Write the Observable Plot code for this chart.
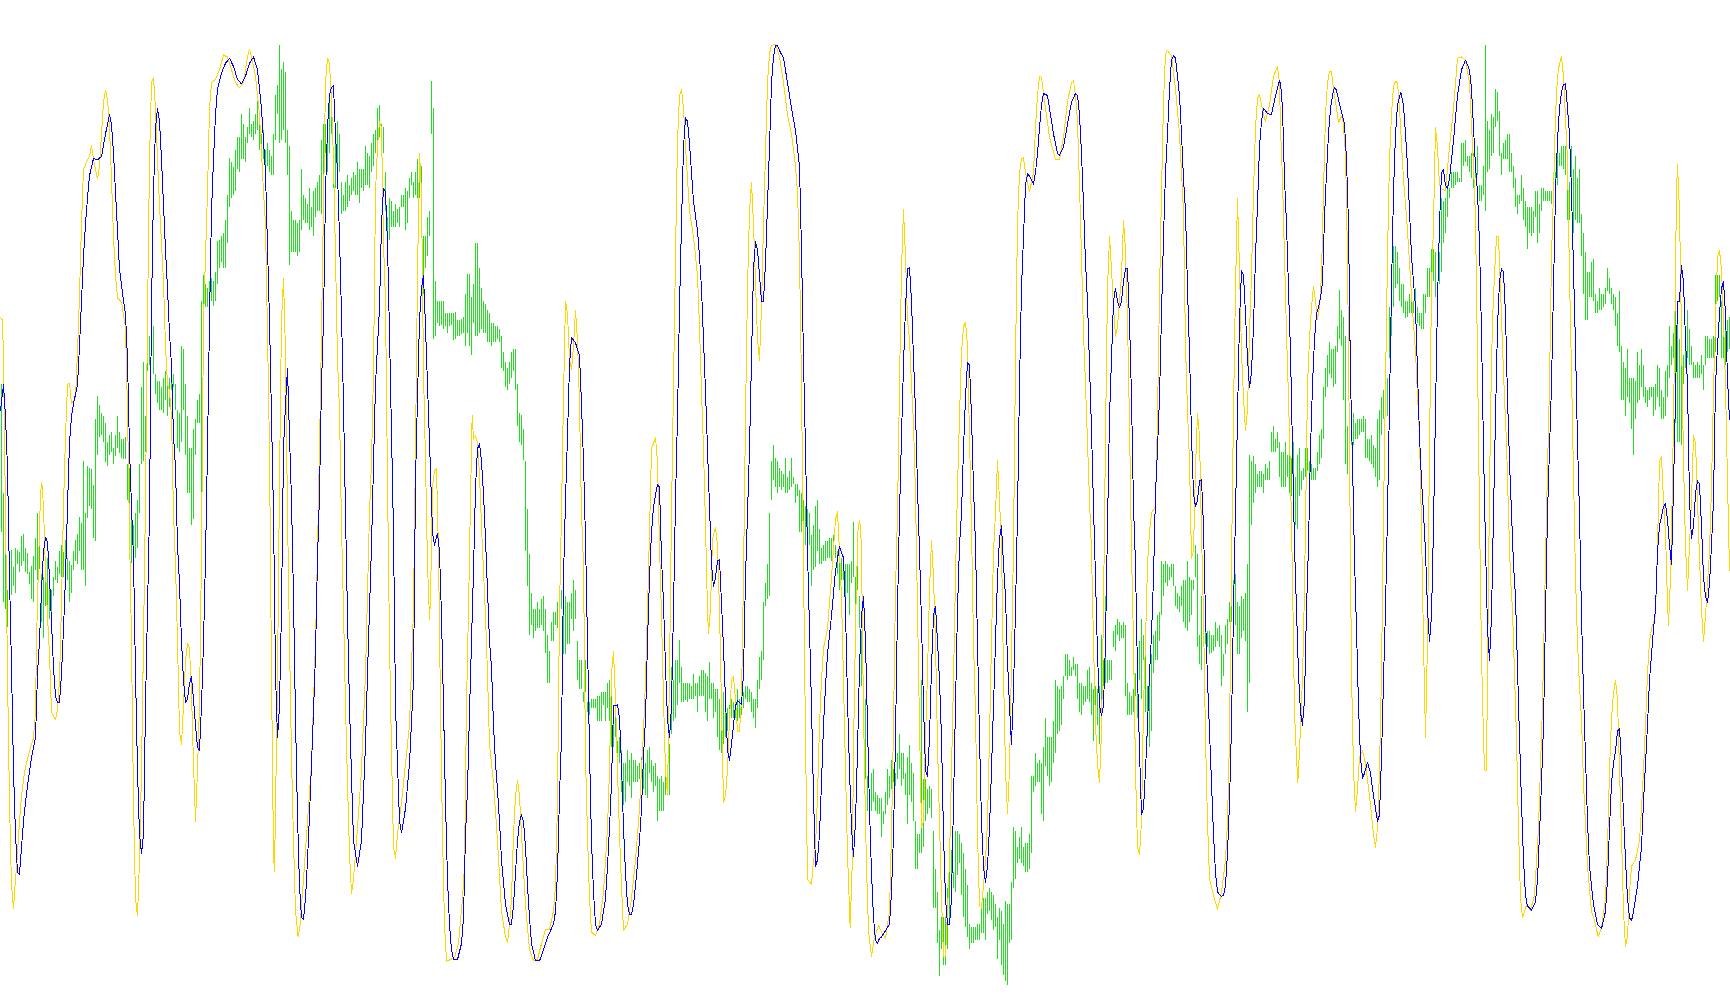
<!DOCTYPE html>
<html><head><meta charset="utf-8">
<script src="https://cdn.jsdelivr.net/npm/d3@7"></script>
<script src="https://cdn.jsdelivr.net/npm/@observablehq/plot@0.6"></script>
<style>html,body{margin:0;padding:0;background:#fff}svg{display:block}</style>
</head><body><div id="c"></div>
<script>
const sectionStart=[0,430,860,1280];
const blue1=[0,640,9,600,15,650,21,730,27,900,33,1040,39,1200,45,1300,51,1360,57,1362,63,1320,69,1280,75,1250,81,1225,93,1180,105,1150,111,1050,117,1000,123,920,129,860,135,838,141,845,147,900,153,970,159,1040,165,1085,171,1095,177,1095,183,1050,189,980,195,900,201,790,207,690,213,650,219,630,231,600,237,540,243,470,249,400,255,350,261,310,267,275,279,248,291,250,303,245,315,210,327,180,333,195,339,240,345,300,351,360,357,420,369,470,375,490,381,560,387,700,393,790,399,870,405,1050,411,1200,417,1300,423,1330,429,1300,435,1100,441,950,447,800,453,480,459,300,465,200,471,170,477,190,483,250,489,320,495,390,501,450,507,520,513,570,519,680,525,730,531,850,537,910,543,1000,549,1060,555,1095,561,1090,567,1065,573,1055,579,1090,585,1130,591,1165,597,1170,603,1100,609,1000,615,870,621,700,627,500,633,330,639,250,645,180,651,140,663,115,675,100,687,92,699,105,711,125,723,132,735,120,747,100,759,90,771,110,783,170,795,270,807,500,819,800,825,1050,831,1150,837,1100,843,950,849,700,855,630,861,575,867,680,873,780,879,930,885,1120,891,1270,897,1380,903,1430,909,1432,915,1400,921,1340,927,1270,933,1190,939,1110,945,1020,951,870,957,770,963,600,969,500,975,300,981,200,987,150,993,137,999,135,1005,210,1011,270,1017,370,1023,490,1029,630,1035,800,1041,960,1047,1100,1053,1210,1059,1310,1071,1350,1083,1310,1095,1160,1101,1050,1113,850,1125,600,1137,480,1143,350,1149,295,1155,300,1161,380,1167,520,1179,830,1185,1100,1191,1190,1197,1280,1203,1298,1215,1260,1227,1190,1239,1060,1245,750,1251,620,1257,500,1263,450,1269,430,1275,510,1281,600];
const blue2=[0,735,6,830,12,850,21,832,27,860,33,960,39,1100,45,1250,51,1370,57,1440,63,1480,69,1495,81,1495,93,1470,99,1430,105,1300,111,1230,117,1110,123,1000,129,890,135,760,141,700,147,692,153,720,159,770,165,840,171,920,177,1000,183,1040,189,1130,195,1190,201,1230,207,1280,213,1340,225,1410,237,1440,243,1440,249,1410,255,1360,261,1310,267,1280,273,1270,279,1280,285,1320,291,1380,297,1430,303,1470,315,1497,327,1497,339,1480,351,1460,369,1440,375,1420,381,1360,387,1240,393,1150,399,900,405,780,411,680,417,570,423,527,435,535,447,555,453,630,459,720,465,840,471,1000,477,1170,483,1310,489,1390,495,1440,501,1450,513,1440,525,1400,531,1350,537,1290,543,1220,549,1100,555,1100,561,1098,567,1120,573,1190,579,1290,585,1360,591,1410,597,1425,603,1425,609,1410,615,1380,627,1310,633,1260,639,1180,645,1120,651,1000,657,900,663,830,669,790,681,755,687,760,693,870,699,940,705,1040,711,1120,717,1150,723,1100,729,950,735,780,741,650,747,480,753,350,759,230,765,185,771,190,777,225,783,270,789,315,801,360,807,400,813,450,819,530,825,610,831,700,837,790,843,880,849,915,855,900,861,875,867,872,873,940,879,1010,885,1090,891,1170,897,1185,903,1160,909,1130,915,1100,921,1092,933,1098,939,1050,945,900,951,800,957,700,963,560,969,420,975,378,981,390,987,430,993,470,999,470,1005,410,1011,320,1017,230,1023,130,1029,90,1035,72,1041,72,1047,80,1059,92,1071,130,1083,170,1095,205,1107,260,1113,390,1119,560,1125,700,1131,860,1137,980,1143,1100,1149,1240,1155,1350,1161,1340,1167,1300,1173,1220,1179,1130,1185,1070,1191,1020,1203,960,1215,890,1227,852,1239,870,1245,950,1251,1090,1257,1200,1263,1290,1269,1335,1275,1280,1281,1170,1287,1040,1293,960,1299,930,1305,1000,1311,1130,1317,1260,1323,1360,1329,1430,1335,1465,1341,1470,1347,1462];
const blue3=[63,1460,75,1450,87,1440,93,1390,99,1300,105,1150,111,950,117,800,123,680,129,570,135,480,141,420,147,418,153,470,159,560,165,640,171,760,177,860,183,970,189,1100,195,1200,201,1210,207,1150,213,1040,219,960,225,945,231,1000,237,1060,243,1150,249,1300,255,1400,261,1440,267,1440,273,1400,279,1250,285,1100,291,950,297,850,303,800,309,700,315,620,321,565,327,570,333,650,339,760,345,850,351,1000,357,1150,363,1280,369,1350,375,1375,381,1350,387,1290,393,1200,399,1100,405,1000,411,900,417,840,423,820,429,880,435,930,441,1030,447,1100,453,1160,459,1075,465,950,471,800,477,600,483,450,489,370,495,290,501,272,507,275,519,288,525,270,531,240,537,200,543,165,549,147,561,150,567,170,579,210,591,240,597,243,609,230,621,195,633,160,645,147,651,150,657,180,663,240,669,320,675,410,681,470,687,570,693,670,699,790,705,900,711,1020,717,1100,723,1115,729,1100,735,1000,741,820,747,650,753,560,759,470,765,450,771,470,777,480,783,470,789,440,795,420,801,420,807,500,813,620,819,790,825,880,831,1050,837,1170,843,1270,849,1260,855,1200,861,1130,867,1050,873,990,879,900,885,770,891,700,897,620,903,490,909,370,915,270,921,210,927,140,933,95,939,88,945,92,951,120,957,150,963,210,969,280,975,330,981,450,987,550,993,680,999,770,1005,790,1011,780,1017,750,1023,748,1029,820,1035,960,1041,1060,1047,1140,1053,1220,1059,1300,1065,1360,1071,1390,1083,1397,1089,1395,1095,1380,1101,1330,1107,1250,1113,1130,1119,950,1125,800,1131,650,1137,500,1143,423,1149,430,1155,490,1161,560,1167,605,1173,580,1179,510,1185,400,1191,320,1197,230,1203,190,1209,170,1221,178,1233,180,1245,150,1257,127];
const blue4=[0,130,6,170,12,280,18,350,24,450,30,550,36,700,42,850,48,950,54,1050,60,1110,66,1130,72,1090,78,950,84,850,90,700,96,600,102,530,108,490,114,480,120,465,126,440,132,340,138,270,144,210,150,170,156,150,162,137,168,142,180,170,192,195,198,250,204,350,210,590,216,720,222,870,228,980,234,1100,240,1180,246,1213,252,1205,261,1188,270,1205,279,1240,291,1280,297,1270,303,1180,309,1060,315,950,321,800,327,630,333,450,339,300,345,210,351,165,361,145,369,165,375,210,381,260,387,330,393,400,399,440,405,480,411,580,417,680,423,750,429,800,435,860,441,950,447,1000,453,960,459,820,465,640,471,470,477,350,483,270,489,265,495,290,501,295,507,280,519,220,531,150,543,110,555,95,567,110,573,140,579,200,585,260,591,300,597,380,603,520,609,700,615,850,621,980,627,1030,633,960,639,800,645,650,651,510,657,440,663,420,669,425,675,490,681,620,687,720,693,800,699,880,705,930,711,1040,717,1150,723,1250,729,1340,735,1395,741,1412,753,1418,765,1405,771,1370,777,1300,783,1220,789,1130,795,960,801,800,807,700,813,600,819,450,825,300,831,220,837,170,843,145,849,133,855,132,861,170,867,210,873,300,879,420,885,540,891,690,897,800,903,960,909,1080,915,1180,921,1280,927,1350,939,1410,951,1440,963,1447,975,1420,981,1370,987,1290,993,1220,999,1190,1005,1170,1011,1140,1017,1135,1023,1190,1029,1270,1035,1340,1041,1400,1047,1430,1053,1435,1059,1420,1071,1380,1083,1320,1089,1250,1095,1190,1101,1130,1107,1060,1113,1020,1119,980,1125,950,1131,860,1137,820,1149,790,1155,785,1161,810,1167,850,1173,880,1179,760,1185,620,1191,470,1197,470,1203,415,1209,440,1215,530,1221,600,1227,780,1233,840,1239,820,1245,770,1251,750,1257,755,1263,820,1269,900,1275,930,1281,940,1287,910,1293,850,1299,780,1305,600,1311,540,1317,490,1323,450,1329,440,1335,490,1341,590,1347,655];
const gold1=[0,495,6,500,9,560,15,800,21,1050,27,1250,33,1380,39,1415,45,1370,51,1330,57,1280,63,1240,69,1215,75,1195,87,1170,99,1150,105,1110,108,1000,114,880,120,770,124,752,129,790,135,890,141,960,147,1020,153,1110,165,1122,171,1105,177,1060,183,940,189,790,195,680,201,600,207,598,213,630,225,620,231,550,237,460,243,350,249,265,261,250,267,245,273,228,279,250,291,280,297,260,303,210,309,160,315,142,321,155,327,200,333,280,339,370,345,430,351,465,363,472,375,510,381,640,387,830,393,1000,399,1250,405,1400,411,1427,417,1340,423,1200,429,1000,435,780,441,500,447,250,453,130,459,122,465,170,471,250,477,320,483,380,489,440,495,540,501,600,507,610,513,650,519,800,525,880,531,1000,537,1140,543,1160,549,1100,555,1030,561,1003,567,1010,573,1080,579,1190,585,1280,591,1200,597,1100,603,860,609,500,615,400,621,300,627,170,633,130,645,125,657,110,669,87,681,90,693,110,705,130,717,138,729,130,741,90,747,78,753,90,765,120,777,180,789,300,795,350,801,520,807,700,813,1050,819,1330,822,1358,825,1260,831,1060,837,750,843,500,849,435,855,550,861,800,867,1000,873,1180,879,1310,885,1420,893,1460,899,1440,909,1370,921,1280,933,1190,945,1000,951,860,957,700,963,520,969,320,975,130,981,92,987,100,993,160,999,250,1005,400,1011,560,1017,640,1023,820,1029,950,1035,1100,1041,1220,1047,1330,1053,1392,1059,1370,1071,1290,1083,1200,1095,1050,1107,800,1113,720,1119,580,1125,300,1131,230,1137,190,1143,200,1149,380,1155,470,1161,750,1167,1000,1173,1170,1179,1320,1185,1337,1191,1300,1203,1250,1215,1190,1227,1130,1239,950,1245,700,1251,430,1257,240,1263,300,1269,580,1275,720,1281,880,1287,965];
const gold2=[0,935,6,760,12,735,18,730,24,860,30,1100,36,1300,42,1440,48,1498,72,1492,84,1470,96,1400,102,1350,108,1100,114,950,120,780,125,648,129,685,135,680,141,690,147,740,153,820,165,960,171,1050,177,1160,189,1220,201,1310,213,1420,225,1460,231,1468,237,1440,243,1400,249,1300,255,1240,261,1216,267,1240,273,1300,285,1410,297,1480,309,1497,321,1495,333,1470,345,1448,357,1448,369,1420,375,1380,381,1250,387,950,393,800,399,620,405,470,411,490,417,560,423,577,429,540,435,485,441,530,447,630,453,800,459,880,465,1180,471,1300,477,1400,483,1452,495,1458,507,1440,519,1390,531,1290,537,1200,543,1050,549,1015,555,1090,561,1200,567,1300,573,1380,579,1450,591,1440,603,1400,615,1340,627,1260,639,1140,645,1060,651,950,657,830,663,700,675,682,681,720,687,850,693,960,699,1090,705,1200,711,1240,717,1050,723,800,729,600,735,400,741,220,747,150,753,140,759,170,765,230,771,280,777,330,789,370,801,430,807,510,813,610,819,700,825,820,831,950,834,988,840,950,846,840,855,822,861,850,867,950,873,1100,879,1250,885,1240,891,1200,897,1120,903,1060,909,1055,915,1090,921,1140,927,1140,933,1090,939,900,945,650,951,450,957,330,963,285,969,350,975,440,981,530,987,562,993,480,999,350,1005,240,1011,130,1017,85,1023,72,1035,70,1047,90,1059,130,1071,180,1083,210,1095,260,1101,300,1107,400,1113,600,1119,880,1125,1150,1131,1370,1143,1378,1149,1340,1155,1320,1161,1240,1167,1130,1173,1060,1179,1010,1191,980,1203,900,1215,810,1221,798,1227,860,1233,930,1239,1060,1245,1200,1251,1330,1259,1445,1265,1350,1271,1100,1277,930,1283,820,1288,812];
const gold3=[0,830,3,850,6,1000,12,1200,18,1350,24,1450,33,1490,42,1460,54,1442,66,1455,75,1462,87,1420,93,1300,99,1130,105,920,111,800,117,600,123,420,129,327,135,400,141,500,147,530,153,600,159,660,165,770,171,950,177,1130,183,1290,189,1280,195,1150,201,1050,207,920,213,843,219,900,225,1000,231,1160,237,1280,243,1400,249,1490,255,1490,261,1420,267,1340,273,1200,279,1060,285,900,291,760,297,650,303,550,309,510,315,503,321,540,327,680,333,820,339,1000,345,1110,351,1300,357,1410,363,1415,369,1380,375,1340,381,1280,387,1150,393,1000,399,860,405,800,411,718,417,780,423,850,429,1050,435,1200,441,1268,447,1200,453,1030,459,850,465,560,471,350,477,270,483,248,489,247,495,270,507,300,519,270,525,200,531,150,537,120,543,122,555,170,567,215,585,250,597,250,609,215,621,160,633,130,639,127,645,150,651,190,657,290,663,400,669,520,675,600,681,690,687,780,693,860,699,1000,705,1130,711,1190,717,1220,723,1140,729,950,735,680,741,450,747,370,753,420,759,480,765,525,771,510,777,470,783,430,789,345,795,390,801,500,807,660,813,860,819,1000,825,1200,831,1320,837,1332,843,1280,849,1100,855,1000,861,880,867,830,873,800,885,790,891,650,897,460,903,300,909,160,915,85,921,80,933,88,945,140,957,210,969,330,975,540,981,640,987,720,993,870,999,860,1005,730,1011,645,1017,680,1023,830,1029,960,1035,1150,1041,1280,1047,1370,1059,1395,1071,1417,1083,1390,1095,1340,1101,1280,1107,1150,1113,880,1119,640,1125,450,1131,310,1137,420,1143,550,1149,620,1155,672,1161,640,1167,520,1173,430,1179,300,1185,200,1191,155,1197,148,1209,180,1215,190,1227,165,1239,120,1251,105,1257,130];
const gold4=[0,200,6,280,12,400,18,520,24,620,30,740,36,900,42,1110,48,1180,52,1220,57,1170,63,1100,69,1000,75,820,81,600,87,530,93,480,99,447,105,470,111,498,117,480,123,430,129,300,135,180,141,130,147,112,153,112,159,140,168,170,174,192,186,180,195,240,201,400,207,700,213,1050,219,1200,225,1265,231,1230,237,1180,246,1170,255,1190,267,1240,279,1300,285,1320,291,1290,297,1200,303,1050,309,800,315,600,321,400,327,250,333,180,339,135,345,128,351,130,357,170,369,280,381,360,393,460,405,550,417,680,423,820,429,1000,435,1150,441,1000,447,700,453,450,459,350,465,200,471,230,477,290,483,295,495,298,507,230,519,170,531,92,543,90,555,95,567,130,579,260,585,340,591,560,597,800,603,1020,609,1150,612,1200,618,1200,624,900,630,650,636,500,642,430,648,370,654,370,660,450,666,540,672,620,678,690,684,800,690,900,696,950,708,1150,714,1290,720,1400,726,1430,738,1410,750,1418,762,1395,774,1290,786,1100,798,800,807,600,813,400,819,300,825,180,831,120,837,100,843,90,849,120,861,250,867,430,873,580,879,740,885,900,891,1000,897,1070,903,1120,909,1220,921,1350,933,1420,945,1440,953,1460,963,1445,975,1400,981,1320,987,1200,993,1120,999,1080,1005,1060,1011,1090,1017,1200,1023,1300,1029,1420,1035,1475,1041,1460,1047,1390,1053,1350,1065,1340,1077,1310,1083,1260,1089,1200,1095,1130,1101,1050,1107,1000,1113,980,1125,960,1131,850,1137,720,1143,712,1149,780,1155,830,1161,940,1164,975,1170,900,1176,750,1182,550,1188,300,1191,258,1197,330,1203,520,1209,720,1215,850,1221,920,1227,850,1233,780,1239,680,1245,690,1251,780,1257,870,1263,950,1269,1000,1275,960,1281,910,1287,860,1293,760,1299,610,1305,500,1311,400,1317,392,1323,420,1329,500,1335,600,1341,750,1347,890];
const green1=[3,600,830,9,770,940,15,830,950,21,920,978,27,860,900,33,858,928,39,885,915,45,855,925,51,858,880,57,862,892,63,836,884,69,833,876,75,855,892,81,863,896,87,892,912,93,883,935,99,868,940,105,840,890,111,800,905,117,826,888,123,895,970,129,900,995,135,895,945,141,870,945,147,900,965,153,920,955,159,900,930,165,875,905,171,885,910,177,860,895,183,850,900,189,862,900,195,842,890,201,870,905,207,875,940,213,882,925,219,860,890,225,842,875,231,833,880,237,807,860,243,817,890,249,720,890,255,800,915,261,727,808,267,730,790,273,733,795,279,757,840,285,655,845,291,618,710,297,632,682,303,645,680,309,650,690,315,660,722,321,690,728,327,680,710,333,675,705,339,700,725,345,680,712,351,650,700,357,675,708,363,685,715,369,685,717,375,682,717,381,725,780,387,730,790,393,795,878,399,820,875,405,800,870,411,780,855,417,725,800,423,605,725,429,565,720,435,650,705,441,500,580,447,525,570,453,475,525,459,510,585,465,585,615,471,595,630,477,595,640,483,605,640,489,590,645,495,580,625,501,600,650,507,590,635,513,560,610,519,585,605,525,600,640,531,640,700,537,645,705,543,540,690,549,545,640,555,600,710,561,650,770,567,700,770,573,700,820,579,670,810,585,655,710,591,625,660,597,615,660,603,470,790,609,430,540,615,445,480,621,450,480,627,440,460,633,435,470,639,440,478,645,425,470,651,378,445,657,375,420,663,370,410,669,365,420,675,345,420,681,305,380,687,248,325,693,255,310,699,262,305,705,235,300,711,215,265,717,215,270,723,180,250,729,195,250,735,215,255,741,200,225,747,170,210,753,195,215,759,190,220,765,180,210,771,160,205,777,190,235,783,210,240,789,205,250,795,235,265,801,225,260,807,235,270,813,245,275,819,210,275,825,150,220,831,135,180,837,73,225,843,110,220,849,98,205,855,115,225,861,205,275,867,230,415,873,330,395,879,345,395,885,345,395,891,350,400,897,345,395,903,265,360,909,305,345,915,310,350,921,320,350,927,295,360,933,325,355,939,300,370,945,295,340,951,285,330,957,275,330,963,220,335,969,195,305,975,195,240,981,200,270,987,150,240,993,145,210,999,260,295,1005,200,295,1011,190,270,1017,210,270,1023,285,335,1029,305,330,1035,285,330,1041,275,325,1047,290,315,1053,280,305,1059,270,300,1065,275,305,1071,255,305,1077,265,318,1083,265,295,1089,265,300,1095,230,290,1101,240,290,1107,245,295,1113,225,270,1119,210,260,1125,205,240,1131,170,235,1137,165,215,1143,195,235,1149,200,240,1155,270,330,1161,340,378,1167,310,375,1173,315,355,1179,330,355,1185,320,355,1191,328,350,1197,325,355,1203,305,325,1209,305,325,1215,295,360,1221,300,350,1227,280,310,1233,270,290,1239,285,310,1245,270,305,1251,250,310,1257,265,310,1263,260,290,1269,370,460,1275,370,420,1281,340,400,1287,330,370,1293,128,210,1299,170,530,1305,440,525,1311,470,505,1317,470,510,1323,470,508,1329,470,515,1335,490,510,1341,490,520,1347,490,510];
const green2=[63,490,508,69,490,532,75,488,530,81,500,525,87,500,525,93,498,522,99,495,520,105,460,540,111,428,520,117,428,540,123,465,555,129,445,505,135,380,525,141,380,525,147,420,520,153,450,515,159,470,520,165,475,520,171,485,535,177,490,535,183,505,540,189,505,535,195,510,535,201,510,530,207,515,535,213,525,575,219,550,580,225,565,605,231,575,610,237,565,600,243,550,590,249,545,580,255,545,610,261,600,665,267,645,690,273,648,695,279,670,718,285,720,860,291,795,915,297,865,990,303,925,975,309,950,995,315,950,985,321,940,980,327,950,980,333,935,975,339,930,985,345,950,1018,351,990,1065,357,1015,1065,363,970,1000,369,955,1000,375,955,975,381,940,980,387,930,975,393,920,950,399,925,1020,405,930,1020,411,940,1005,417,940,1005,423,925,965,429,905,985,435,920,965,441,1000,1060,447,1030,1075,453,1030,1075,459,1080,1095,465,1030,1080,471,1095,1110,477,1095,1115,483,1090,1105,489,1090,1105,495,1090,1105,501,1085,1125,507,1085,1125,513,1080,1125,519,1080,1100,525,1080,1125,531,1065,1105,537,1060,1125,543,1070,1165,549,1100,1165,555,1100,1150,561,1155,1225,567,1150,1190,573,1170,1235,579,1190,1255,585,1190,1250,591,1170,1220,597,1185,1225,603,1175,1245,609,1185,1220,615,1185,1220,621,1195,1220,627,1190,1215,633,1180,1200,639,1200,1230,645,1190,1240,651,1170,1245,657,1165,1205,663,1185,1220,669,1195,1235,675,1190,1225,681,1210,1280,687,1215,1265,693,1210,1265,699,1220,1265,705,1205,1240,711,1210,1240,717,1160,1240,723,1040,1145,729,1060,1125,735,1030,1120,741,1030,1100,747,998,1065,753,1040,1095,759,1065,1095,765,1065,1092,771,1065,1095,777,1065,1090,783,1070,1090,789,1052,1090,795,1065,1085,801,1065,1110,807,1055,1085,813,1045,1085,819,1045,1085,825,1050,1110,831,1055,1125,837,1032,1090,843,1065,1090,849,1065,1120,855,1075,1110,861,1075,1150,867,1090,1170,873,1100,1175,879,1080,1160,885,1105,1150,891,1105,1140,897,1100,1140,903,1090,1120,909,1095,1120,915,1090,1120,921,1075,1125,927,1090,1120,933,1090,1115,939,1080,1105,945,1070,1090,951,1070,1095,957,1075,1095,963,1080,1110,969,1090,1120,975,1090,1135,981,1060,1105,987,1025,1075,993,1015,1060,999,940,1030,1005,910,945,1011,880,935,1017,800,930,1023,720,780,1029,695,750,1035,715,760,1041,720,770,1047,730,760,1053,735,765,1059,740,760,1065,715,770,1071,745,770,1077,735,765,1083,715,760,1089,745,755,1095,755,785,1101,755,775,1107,765,830,1113,770,830,1119,780,850,1125,790,850,1131,795,870,1137,800,850,1143,835,915,1149,820,890,1155,790,885,1161,780,860,1167,825,880,1173,855,880,1179,850,875,1185,845,875,1191,845,870,1197,840,870,1203,840,875,1209,835,860,1215,850,870,1221,860,895,1227,860,920,1233,870,905,1239,880,905,1245,880,940,1251,880,925,1257,880,960,1263,875,910,1269,815,900,1275,900,960,1281,880,920,1287,930,980];
const green3=[3,985,1070,9,1105,1130,15,1090,1215,21,1210,1265,27,1235,1265,33,1205,1265,39,1200,1250,45,1235,1265,51,1240,1270,57,1245,1270,63,1245,1305,69,1265,1285,75,1235,1270,81,1200,1255,87,1210,1245,93,1185,1230,99,1200,1220,105,1205,1225,111,1175,1215,117,1145,1200,123,1175,1225,129,1175,1215,135,1205,1240,141,1180,1285,147,1162,1240,153,1190,1250,159,1205,1280,165,1280,1355,171,1300,1355,177,1300,1330,183,1060,1330,189,1215,1320,195,1215,1280,201,1230,1270,207,1225,1260,213,1230,1275,219,1295,1415,225,1355,1415,231,1390,1470,237,1450,1522,243,1430,1480,249,1430,1505,255,1430,1505,261,1385,1480,267,1330,1435,273,1325,1400,279,1360,1385,285,1295,1390,291,1295,1365,297,1300,1345,303,1315,1395,309,1330,1430,315,1355,1445,321,1380,1460,327,1440,1480,333,1445,1470,339,1445,1470,345,1445,1465,351,1440,1465,357,1440,1465,363,1415,1455,369,1400,1455,375,1400,1465,381,1390,1425,387,1385,1420,393,1390,1435,399,1395,1450,405,1410,1445,411,1430,1495,417,1415,1465,423,1420,1505,429,1440,1520,435,1405,1530,441,1410,1535,447,1410,1470,453,1375,1465,459,1290,1385,465,1295,1370,471,1320,1345,477,1305,1340,483,1290,1345,489,1320,1350,495,1315,1360,501,1315,1360,507,1300,1355,513,1210,1330,519,1210,1235,525,1175,1225,531,1190,1220,537,1185,1220,543,1190,1270,549,1165,1280,555,1120,1195,561,1150,1210,567,1150,1225,573,1150,1220,579,1125,1190,585,1060,1175,591,1070,1145,597,1075,1140,603,1070,1130,609,1055,1090,615,1020,1055,621,1020,1060,627,1030,1055,633,1040,1055,639,1025,1045,645,1035,1055,651,1035,1090,657,1065,1110,663,1065,1115,669,1070,1100,675,1070,1095,681,1045,1090,687,1040,1095,693,1065,1115,699,1075,1155,705,1070,1130,711,1075,1130,717,1070,1160,723,990,1110,729,1030,1070,735,930,1065,741,1030,1065,747,1030,1060,753,1030,1060,759,985,1010,765,975,1015,771,965,990,777,970,1000,783,975,995,789,970,995,795,975,1085,801,1065,1115,807,1080,1115,813,1085,1115,819,1075,1110,825,1050,1085,831,1050,1120,837,1000,1060,843,965,1090,849,990,1030,855,1020,1110,861,1070,1150,867,1050,1165,873,1020,1140,879,990,1050,885,985,1030,891,960,1030,897,955,1000,903,875,960,909,880,930,915,875,910,921,880,915,927,885,905,933,880,900,939,880,915,945,915,945,951,925,950,957,930,955,963,915,945,969,905,970,975,905,980,981,875,985,987,900,970,993,905,960,999,905,920,1005,850,900,1011,865,1010,1017,990,1035,1023,930,1045,1029,935,1000,1035,935,1005,1041,985,1010,1047,985,1020,1053,990,1018,1059,990,1015,1065,970,1010,1071,980,1000,1077,975,1010,1083,990,1070,1089,1020,1055,1095,975,1020,1101,965,1005,1107,940,970,1113,935,970,1119,905,950,1125,895,975,1131,940,1020,1137,945,1020,1143,930,995,1149,935,985,1155,925,1000,1161,880,1110,1167,710,1065,1173,720,820,1179,712,785,1185,725,770,1191,740,760,1197,735,760,1203,735,760,1209,740,770,1215,725,750,1221,730,750,1227,720,750,1233,675,705,1239,665,705,1245,685,705,1251,675,700,1257,690,745];
const green4=[3,705,760,9,705,760,15,690,760,21,710,745,27,705,770,33,715,775,39,690,760,45,745,820,51,710,825,57,700,775,63,735,765,69,730,750,75,700,745,81,700,735,87,720,745,93,725,750,99,730,750,105,730,750,111,705,735,117,680,725,123,670,715,129,605,685,135,575,620,141,555,605,147,535,585,153,545,590,159,545,605,165,540,600,171,510,550,177,453,530,183,485,540,189,495,625,195,525,725,201,665,740,207,665,695,213,675,695,219,645,695,225,660,685,231,655,685,237,655,680,243,655,675,249,650,675,255,655,715,261,685,715,267,685,720,273,680,725,279,695,730,285,700,745,291,655,760,297,640,750,303,620,680,309,610,655,315,620,650,321,590,650,327,480,560,333,480,525,339,385,480,345,385,450,351,395,445,357,420,470,363,445,480,369,445,490,375,470,497,381,470,495,387,460,490,393,465,490,399,470,490,405,450,475,411,480,505,417,490,510,423,490,515,429,460,515,435,460,490,441,420,465,447,420,465,453,390,465,459,390,440,465,395,465,471,450,505,477,395,445,483,310,425,489,315,380,495,310,365,501,290,340,507,295,310,513,270,295,519,270,295,525,270,290,531,270,285,537,280,285,543,225,285,549,225,260,555,220,255,561,245,260,567,245,270,573,240,280,579,240,295,585,255,280,591,230,275,597,290,315,603,290,315,609,260,305,615,72,330,621,190,270,627,205,265,633,180,245,639,185,240,645,140,200,651,145,190,657,175,245,663,240,275,669,225,250,675,220,250,681,210,250,687,210,270,693,240,270,699,260,295,705,280,325,711,305,335,717,305,320,723,275,315,729,295,345,735,315,355,741,325,390,747,325,365,753,325,370,759,330,365,765,300,340,771,300,380,777,320,365,783,295,330,789,295,315,795,300,315,801,300,315,807,300,315,813,300,320,819,295,310,825,270,300,831,235,290,837,240,260,843,230,260,849,230,265,855,230,275,861,240,345,867,285,345,873,230,330,879,265,365,885,245,345,891,280,350,897,265,350,903,335,400,909,365,460,915,395,500,921,425,500,927,425,465,933,410,465,939,405,470,945,460,490,951,470,490,957,450,485,963,460,485,969,460,480,975,450,475,981,420,455,987,435,460,993,450,475,999,460,485,1005,465,510,1011,490,540,1017,455,550,1023,540,625,1029,565,625,1035,575,650,1041,545,620,1047,590,630,1053,590,670,1059,590,710,1065,595,655,1071,550,630,1077,570,625,1083,545,605,1089,570,620,1095,605,630,1101,610,635,1107,605,625,1113,605,620,1119,605,650,1125,600,640,1131,570,620,1137,575,635,1143,610,655,1149,620,655,1155,580,650,1161,570,620,1167,510,590,1173,540,570,1179,520,560,1185,475,660,1191,475,690,1197,530,690,1203,560,695,1209,555,600,1215,510,575,1221,485,560,1227,515,570,1233,540,570,1239,565,590,1245,570,590,1251,565,590,1257,570,590,1263,555,585,1269,570,610,1275,525,570,1281,525,560,1287,530,560,1293,530,560,1299,525,560,1305,430,550,1311,430,470,1317,430,465,1323,470,560,1329,510,560,1335,515,570,1341,500,550,1347,495,545];

const lineRows=(sections)=>sections.flatMap((s,k)=>d3.range(0,s.length,2).map(i=>({t:sectionStart[k]+s[i]/3,v:s[i+1]})));
const barRows=(sections)=>sections.flatMap((s,k)=>d3.range(0,s.length,3).map(i=>({t:sectionStart[k]+s[i]/3,hi:s[i+1],lo:s[i+2]})));
const blue=lineRows([blue1,blue2,blue3,blue4]);
const gold=lineRows([gold1,gold2,gold3,gold4]);
const green=barRows([green1,green2,green3,green4]);

const chart=Plot.plot({
  width:1730,height:1005,margin:0,
  x:{domain:[0,1730],range:[0,1730],axis:null},
  y:{domain:[0,1556],range:[-1.4,998.2],axis:null},
  style:{background:"#fff"},
  marks:[
    Plot.ruleX(green,{x:"t",y1:"hi",y2:"lo",stroke:"#22dd22",strokeWidth:1,shapeRendering:"crispEdges"}),
    Plot.line(gold,{x:"t",y:"v",stroke:"#ffd700",strokeWidth:1,curve:"linear",shapeRendering:"crispEdges"}),
    Plot.line(blue,{x:"t",y:"v",stroke:"#0000ff",strokeWidth:1,curve:"linear",shapeRendering:"crispEdges"})
  ]
});
document.getElementById("c").appendChild(chart);
</script></body></html>
